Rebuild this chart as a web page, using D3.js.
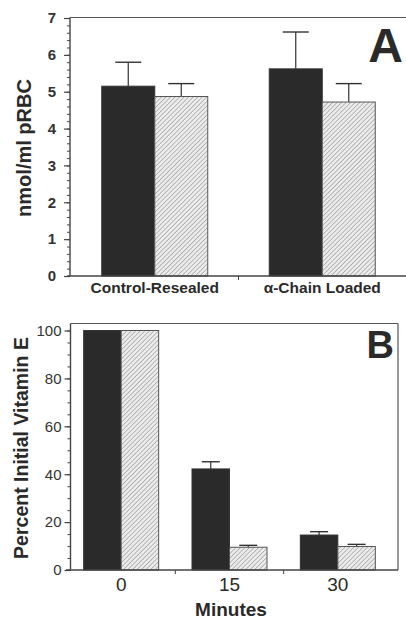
<!DOCTYPE html>
<html><head><meta charset="utf-8">
<script src="https://cdn.jsdelivr.net/npm/d3@7"></script>
<style>html,body{margin:0;padding:0;background:#fff;}svg{display:block;}</style>
</head><body>
<svg id="c" width="406" height="619"></svg>
<script>
// Panel A data
const catsA = ["Control-Resealed", "α-Chain Loaded"];
const darkA = [5.15, 5.62];
const darkErrA = [0.65, 1.0];
const hatchA = [4.87, 4.72];
const hatchErrA = [0.35, 0.5];
const ticksA = [0,1,2,3,4,5,6,7];

// Panel B data
const catsB = ["0", "15", "30"];
const darkB = [100, 42.2, 14.6];
const darkErrB = [0, 3.0, 1.4];
const hatchB = [100, 9.5, 9.8];
const hatchErrB = [0, 0.8, 0.9];
const ticksB = [0,20,40,60,80,100];

const svg = d3.select("#c");
const defs = svg.append("defs");
const pat = defs.append("pattern").attr("id","hatch").attr("patternUnits","userSpaceOnUse")
  .attr("width",3.2).attr("height",3.2).attr("patternTransform","rotate(45)");
pat.append("rect").attr("width",3.2).attr("height",3.2).attr("fill","#ececec");
pat.append("line").attr("x1",0).attr("y1",0).attr("x2",0).attr("y2",3.2)
  .attr("stroke","#8a8a8a").attr("stroke-width",1.1);

const FONT = "'Liberation Sans', Arial, Helvetica, sans-serif";
const ink = "#2a2a2a";

function panel(opts){
  const g = svg.append("g");
  const {x0,x1,axX,yTop,frameRight,y0px,y1px,ymax,cats,dark,darkErr,hatch,hatchErr,ticks,minorStep,barW,capW,bandRange} = opts;
  const y = d3.scaleLinear().domain([0,ymax]).range([y0px,y1px]);
  const x = d3.scaleBand().domain(cats).range(bandRange);
  // frame
  g.append("line").attr("x1",axX).attr("x2",frameRight).attr("y1",yTop).attr("y2",yTop)
    .attr("stroke","#555").attr("stroke-width",1.2);
  if (opts.drawRight) g.append("line").attr("x1",frameRight).attr("x2",frameRight).attr("y1",yTop).attr("y2",y0px)
    .attr("stroke","#555").attr("stroke-width",1.2);
  // bars
  cats.forEach((c,i)=>{
    const cx = x(c) + x.bandwidth()/2;
    const dx = cx - barW, hx = cx;
    [[dx,dark[i],darkErr[i]],[hx,hatch[i],hatchErr[i]]].forEach(([bx,v,e])=>{
      if (e>0){
        g.append("line").attr("x1",bx+barW/2).attr("x2",bx+barW/2).attr("y1",y(v)).attr("y2",y(v+e))
          .attr("stroke","#333").attr("stroke-width",1.2);
        g.append("line").attr("x1",bx+barW/2-capW/2).attr("x2",bx+barW/2+capW/2).attr("y1",y(v+e)).attr("y2",y(v+e))
          .attr("stroke","#333").attr("stroke-width",1.4);
      }
    });
    g.append("rect").attr("x",dx).attr("y",y(dark[i])).attr("width",barW).attr("height",y(0)-y(dark[i]))
      .attr("fill",ink).attr("stroke","#333").attr("stroke-width",1);
    g.append("rect").attr("x",hx).attr("y",y(hatch[i])).attr("width",barW).attr("height",y(0)-y(hatch[i]))
      .attr("fill","url(#hatch)").attr("stroke","#555").attr("stroke-width",1);
  });
  // y axis with minor ticks
  const minor = d3.range(0, ymax+1e-9, minorStep);
  const yAxisMinor = d3.axisLeft(y).tickValues(minor).tickSize(3).tickFormat("");
  const ga = g.append("g").attr("transform",`translate(${axX},0)`).call(yAxisMinor);
  ga.select(".domain").remove();
  ga.selectAll("line").attr("stroke","#444").attr("stroke-width",1);
  const yAxis = d3.axisLeft(y).tickValues(ticks).tickSize(6).tickPadding(opts.tickPad).tickFormat(d3.format("d"));
  const gy = g.append("g").attr("transform",`translate(${axX},0)`).call(yAxis);
  gy.select(".domain").attr("d",`M0,${y0px}V${yTop}`).attr("stroke","#444").attr("stroke-width",1.4);
  gy.selectAll("line").attr("stroke","#444").attr("stroke-width",1.2);
  gy.selectAll("text").attr("font-family",FONT).attr("font-size",opts.tickFont).attr("font-weight",opts.tickWeight)
    .attr("fill","#333");
  // x axis
  const xAxis = d3.axisBottom(x).tickSize(0).tickPadding(opts.xPad);
  const gx = g.append("g").attr("transform",`translate(0,${y0px})`).call(xAxis);
  gx.select(".domain").attr("d",`M${x0},0H${x1}`).attr("stroke","#444").attr("stroke-width",1.4);
  gx.selectAll("text").attr("font-family",FONT).attr("font-size",opts.xFont).attr("font-weight",opts.xWeight)
    .attr("fill","#2a2a2a");
  cats.slice(1).forEach(c=>{
    g.append("line").attr("x1",x(c)).attr("x2",x(c)).attr("y1",y0px).attr("y2",y0px+4).attr("stroke","#444");
  });
  g.append("text").attr("transform",`translate(${opts.titleX},${opts.titleY}) rotate(-90)`)
    .attr("text-anchor","middle").attr("font-family",FONT).attr("font-weight","bold")
    .attr("font-size",opts.titleSize).attr("fill","#2a2a2a").text(opts.yTitle);
  g.append("text").attr("x",opts.letterX).attr("y",opts.letterY).attr("text-anchor","end")
    .attr("font-family",FONT).attr("font-weight","bold").attr("font-size",opts.letterSize)
    .attr("fill","#2a2a2a").text(opts.letter);
  return {g,x,y};
}

panel({x0:67,x1:406,axX:70,yTop:17.5,frameRight:406,drawRight:false,y0px:276,y1px:18,ymax:7,
  cats:catsA,dark:darkA,darkErr:darkErrA,hatch:hatchA,hatchErr:hatchErrA,ticks:ticksA,minorStep:0.2,
  barW:53,capW:26,bandRange:[71,406],tickPad:8,tickFont:15,tickWeight:"bold",xPad:6,xFont:15.5,xWeight:"bold",
  titleX:31,titleY:148,titleSize:20,yTitle:"nmol/ml pRBC",letter:"A",letterX:403,letterY:62,letterSize:48});

panel({x0:66,x1:398,axX:70.5,yTop:323.5,frameRight:398,drawRight:true,y0px:570,y1px:330.5,ymax:100,
  cats:catsB,dark:darkB,darkErr:darkErrB,hatch:hatchB,hatchErr:hatchErrB,ticks:ticksB,minorStep:5,
  barW:37.5,capW:18,bandRange:[67,392],tickPad:3,tickFont:15,tickWeight:"normal",xPad:8,xFont:19,xWeight:"normal",
  titleX:28,titleY:448,titleSize:19.5,yTitle:"Percent Initial Vitamin E",letter:"B",letterX:394,letterY:358,letterSize:38});

svg.append("text").attr("x",231).attr("y",616).attr("text-anchor","middle")
  .attr("font-family",FONT).attr("font-weight","bold").attr("font-size",19).attr("fill","#2a2a2a").text("Minutes");
</script>
</body></html>
